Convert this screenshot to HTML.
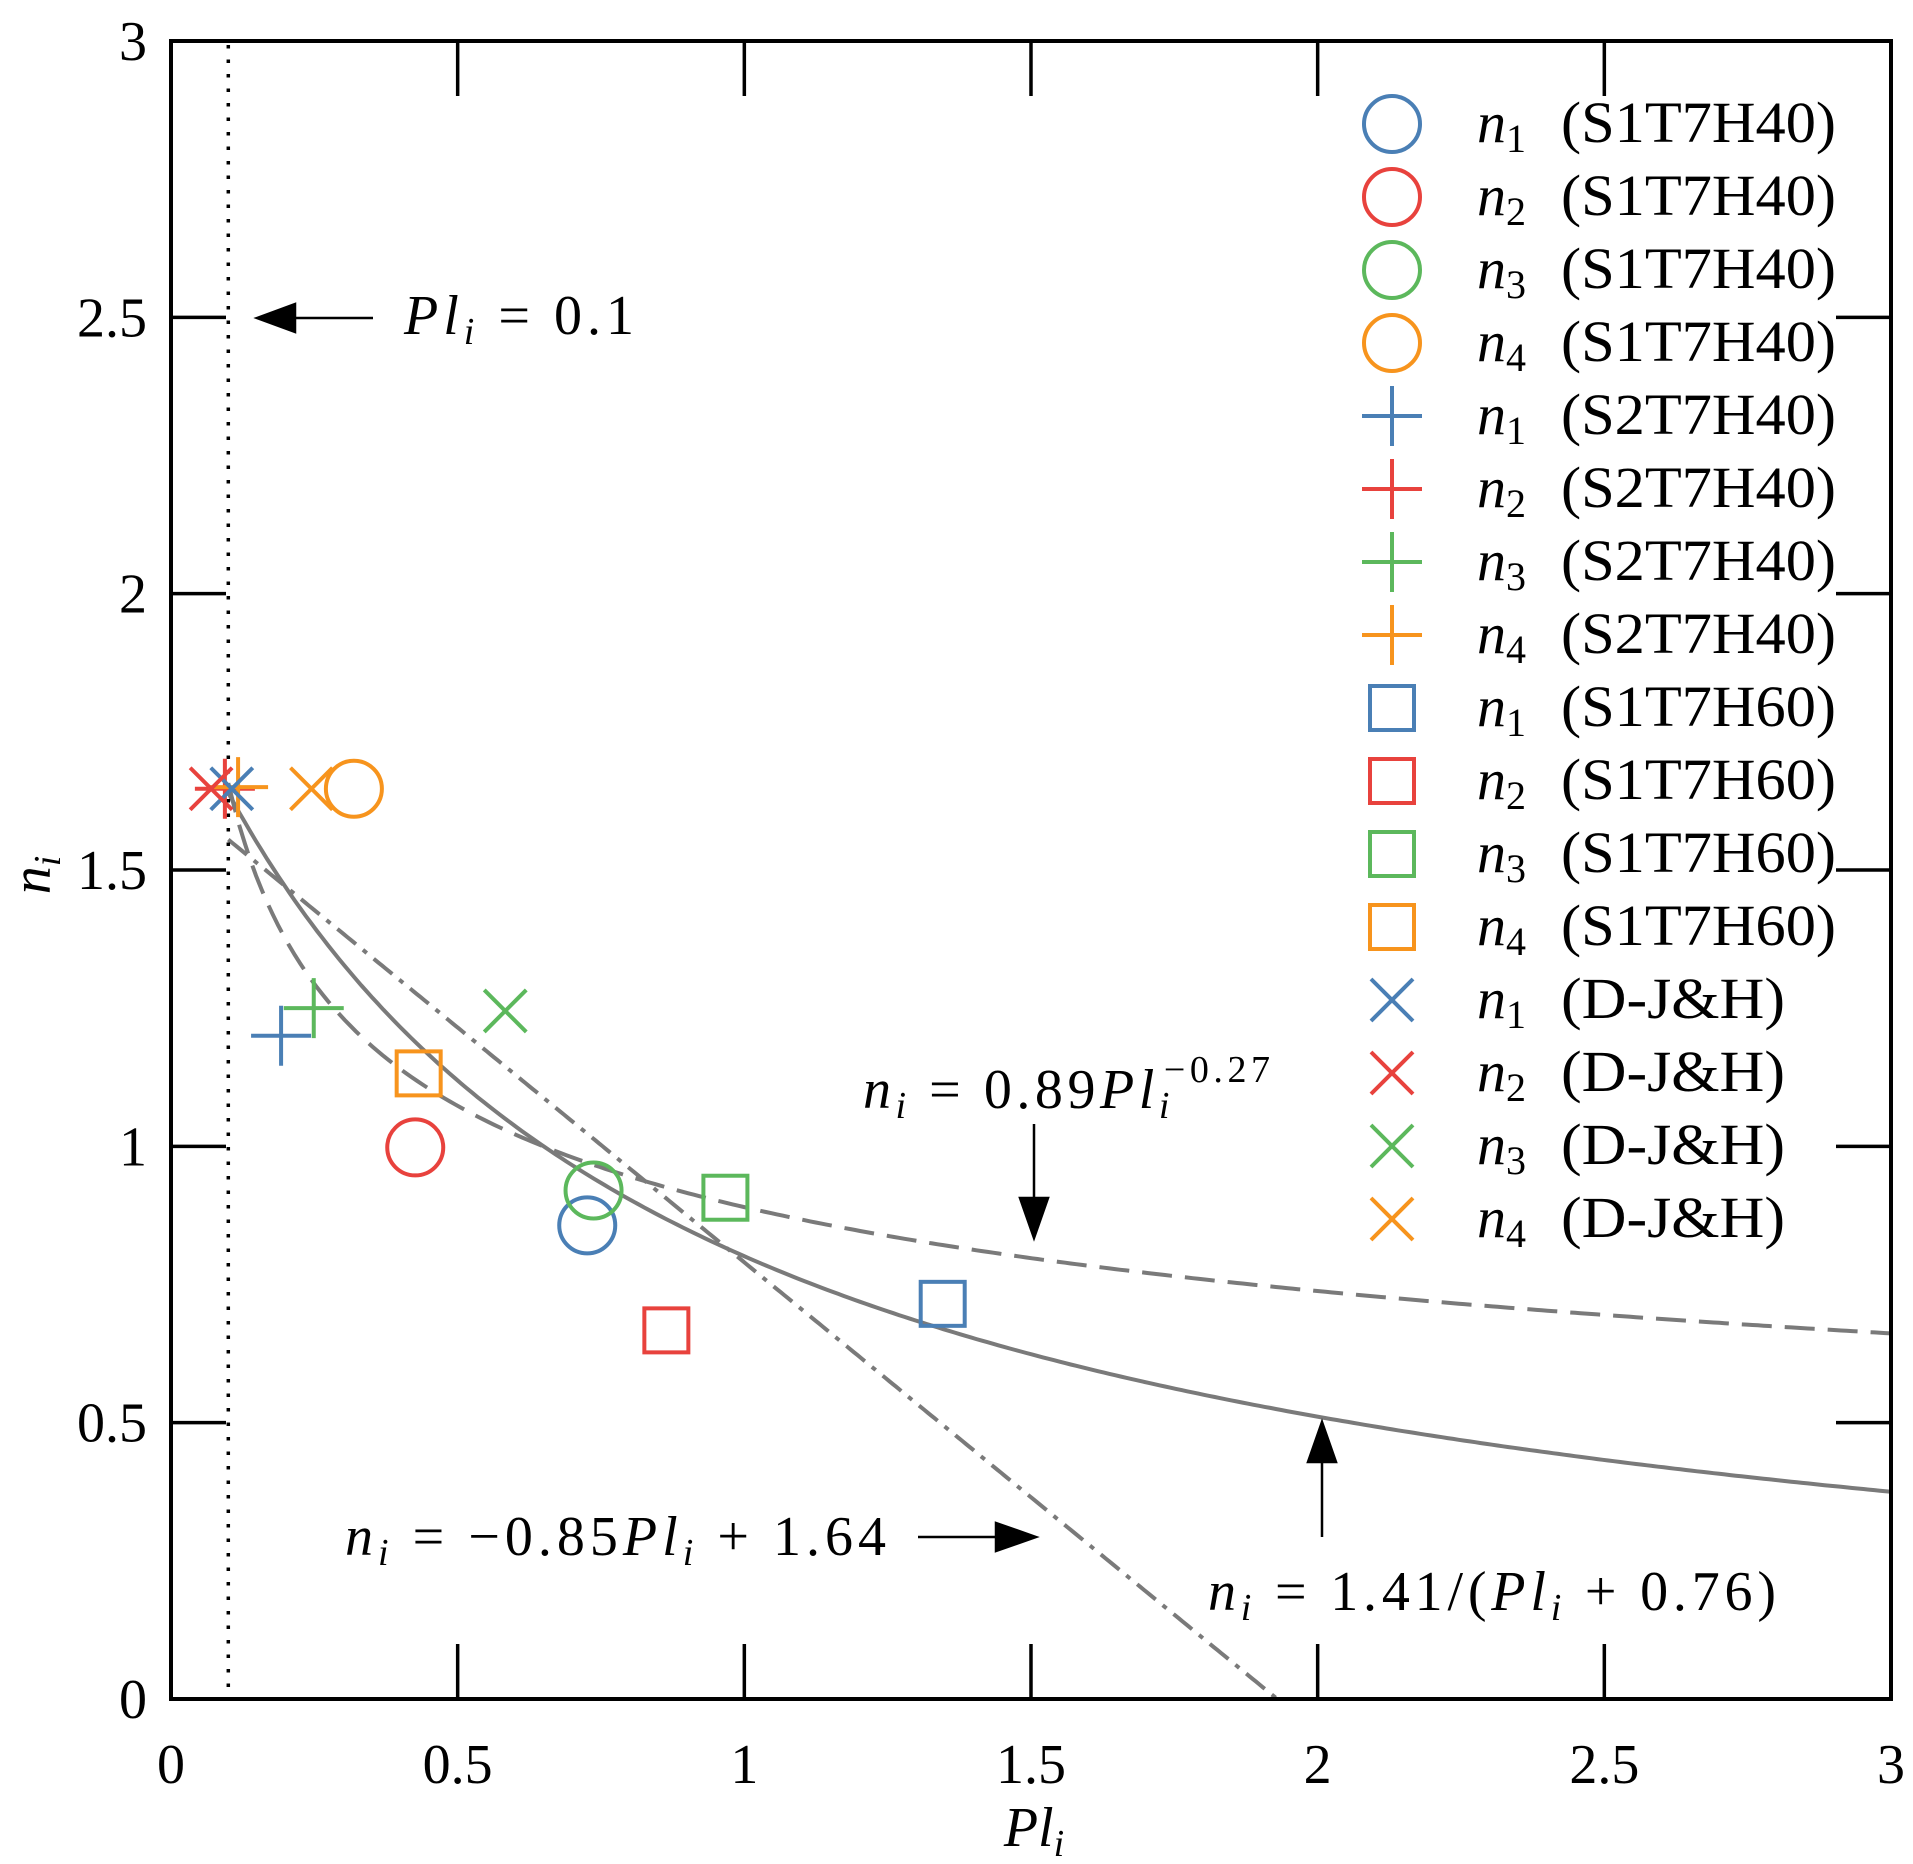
<!DOCTYPE html>
<html><head><meta charset="utf-8"><style>
html,body{margin:0;padding:0;background:#fff;}
svg{display:block;}
text{font-family:"Liberation Serif","DejaVu Serif",serif;fill:#000;}
</style></head><body>
<svg id="s" width="1913" height="1864" viewBox="0 0 1913 1864" xmlns="http://www.w3.org/2000/svg">
<g id="curves"></g>
<g id="ticks" stroke="#000" stroke-width="3.5"></g>
<rect x="171" y="41" width="1720" height="1658" fill="none" stroke="#000" stroke-width="4"/>
<line x1="228.3" y1="45" x2="228.3" y2="1697" stroke="#000" stroke-width="3.5" stroke-dasharray="3.5,11"/>
<g id="marks" fill="none" stroke-width="4"></g>
<g id="labels" font-size="56"></g>
<g stroke="#000" stroke-width="2.5" fill="#000">
<line x1="373" y1="318" x2="285" y2="318"/><polygon points="257,318 295,304 295,332"/>
<line x1="1034" y1="1124" x2="1034" y2="1200"/><polygon points="1034,1238 1020,1198 1048,1198"/>
<line x1="918" y1="1537" x2="1000" y2="1537"/><polygon points="1036,1537 996,1523 996,1551"/>
<line x1="1322" y1="1537" x2="1322" y2="1460"/><polygon points="1322,1422 1308,1462 1336,1462"/>
</g>
<g font-size="56">
<text x="404" y="334" textLength="230" lengthAdjust="spacing"><tspan font-style="italic">Pl</tspan><tspan font-style="italic" font-size="38" dy="10">i</tspan><tspan dy="-10"> = 0.1</tspan></text>
<text x="863" y="1108" textLength="407" lengthAdjust="spacing"><tspan font-style="italic">n</tspan><tspan font-style="italic" font-size="38" dy="10">i</tspan><tspan dy="-10"> = 0.89</tspan><tspan font-style="italic">Pl</tspan><tspan font-style="italic" font-size="38" dy="10">i</tspan><tspan font-size="38" dy="-36" dx="-10">−0.27</tspan></text>
<text x="345" y="1555" textLength="541" lengthAdjust="spacing"><tspan font-style="italic">n</tspan><tspan font-style="italic" font-size="38" dy="10">i</tspan><tspan dy="-10"> = −0.85</tspan><tspan font-style="italic">Pl</tspan><tspan font-style="italic" font-size="38" dy="10">i</tspan><tspan dy="-10"> + 1.64</tspan></text>
<text x="1208" y="1610" textLength="568" lengthAdjust="spacing"><tspan font-style="italic">n</tspan><tspan font-style="italic" font-size="38" dy="10">i</tspan><tspan dy="-10"> = 1.41/(</tspan><tspan font-style="italic">Pl</tspan><tspan font-style="italic" font-size="38" dy="10">i</tspan><tspan dy="-10"> + 0.76)</tspan></text>
<text x="1034" y="1846" text-anchor="middle"><tspan font-style="italic">Pl</tspan><tspan font-style="italic" font-size="38" dy="10">i</tspan></text>
<text transform="translate(50,875) rotate(-90)" text-anchor="middle"><tspan font-style="italic">n</tspan><tspan font-style="italic" font-size="38" dy="10">i</tspan></text>
</g>
</svg>
<script>
var NS="http://www.w3.org/2000/svg";
function X(v){return 171+573.33*v;}function Y(v){return 1699-552.67*v;}
function el(p,t,a){var e=document.createElementNS(NS,t);for(var k in a)e.setAttribute(k,a[k]);p.appendChild(e);return e;}
var cv=document.getElementById("curves");
function path(f,x0,x1,dash){var d="";for(var i=0;i<=300;i++){var x=x0+(x1-x0)*i/300;d+=(i?"L":"M")+X(x).toFixed(1)+","+Y(f(x)).toFixed(1);}
var a={d:d,fill:"none",stroke:"#7a7a7a","stroke-width":4};if(dash)a["stroke-dasharray"]=dash;el(cv,"path",a);}
path(function(x){return 1.41/(x+0.76)},0.1,3);
path(function(x){return 0.89*Math.pow(x,-0.27)},0.1,3,"30,13");
path(function(x){return -0.85*x+1.64},0.1,1.929,"24,9,5,9");
var tk=document.getElementById("ticks"),lb=document.getElementById("labels");
var vals=[0,0.5,1,1.5,2,2.5,3],txt=["0","0.5","1","1.5","2","2.5","3"];
for(var i=0;i<7;i++){var v=vals[i];
el(tk,"line",{x1:X(v),y1:1699,x2:X(v),y2:1644});el(tk,"line",{x1:X(v),y1:41,x2:X(v),y2:96});
el(tk,"line",{x1:171,y1:Y(v),x2:226,y2:Y(v)});el(tk,"line",{x1:1891,y1:Y(v),x2:1836,y2:Y(v)});
var t=el(lb,"text",{x:X(v),y:1783,"text-anchor":"middle"});t.textContent=txt[i];
t=el(lb,"text",{x:147,y:Y(v)+19,"text-anchor":"end"});t.textContent=txt[i];}
var C=["#4a7fb5","#e8423d","#5cb85c","#f7941d"];
var mk=document.getElementById("marks");
function draw(type,cx,cy,c){
if(type=="o")el(mk,"circle",{cx:cx,cy:cy,r:28,stroke:c});
else if(type=="s")el(mk,"rect",{x:cx-22,y:cy-22,width:44,height:44,stroke:c});
else if(type=="+"){el(mk,"line",{x1:cx-30,y1:cy,x2:cx+30,y2:cy,stroke:c});el(mk,"line",{x1:cx,y1:cy-30,x2:cx,y2:cy+30,stroke:c});}
else{el(mk,"line",{x1:cx-21,y1:cy-21,x2:cx+21,y2:cy+21,stroke:c});el(mk,"line",{x1:cx-21,y1:cy+21,x2:cx+21,y2:cy-21,stroke:c});}}
var data={o:[[0.726,0.857],[0.426,0.998],[0.737,0.92],[0.319,1.647]],
"+":[[0.192,1.2],[0.094,1.647],[0.249,1.25],[0.117,1.65]],
s:[[1.346,0.715],[0.864,0.667],[0.967,0.907],[0.432,1.132]],
x:[[0.106,1.647],[0.07,1.647],[0.583,1.245],[0.245,1.647]]};
var order=["o","+","s","x"],names=["S1T7H40","S2T7H40","S1T7H60","D-J&H"],wid=[275,275,275,224];
for(var g=0;g<4;g++)for(var k=0;k<4;k++){var p=data[order[g]][k];draw(order[g],X(p[0]),Y(p[1]),C[k]);}
for(var g=0;g<4;g++)for(var k=0;k<4;k++){var r=g*4+k,cy=124+r*73;draw(order[g],1392,cy,C[k]);
var t=el(lb,"text",{x:1477,y:cy+18,"font-size":"58"});
var a=el(t,"tspan",{"font-style":"italic"});a.textContent="n";
a=el(t,"tspan",{"font-size":"40",dy:"10"});a.textContent=String(k+1);
var t2=el(lb,"text",{x:1561,y:cy+18,"font-size":"58",textLength:wid[g],lengthAdjust:"spacingAndGlyphs"});
t2.textContent="("+names[g]+")";}
</script>
</body></html>
